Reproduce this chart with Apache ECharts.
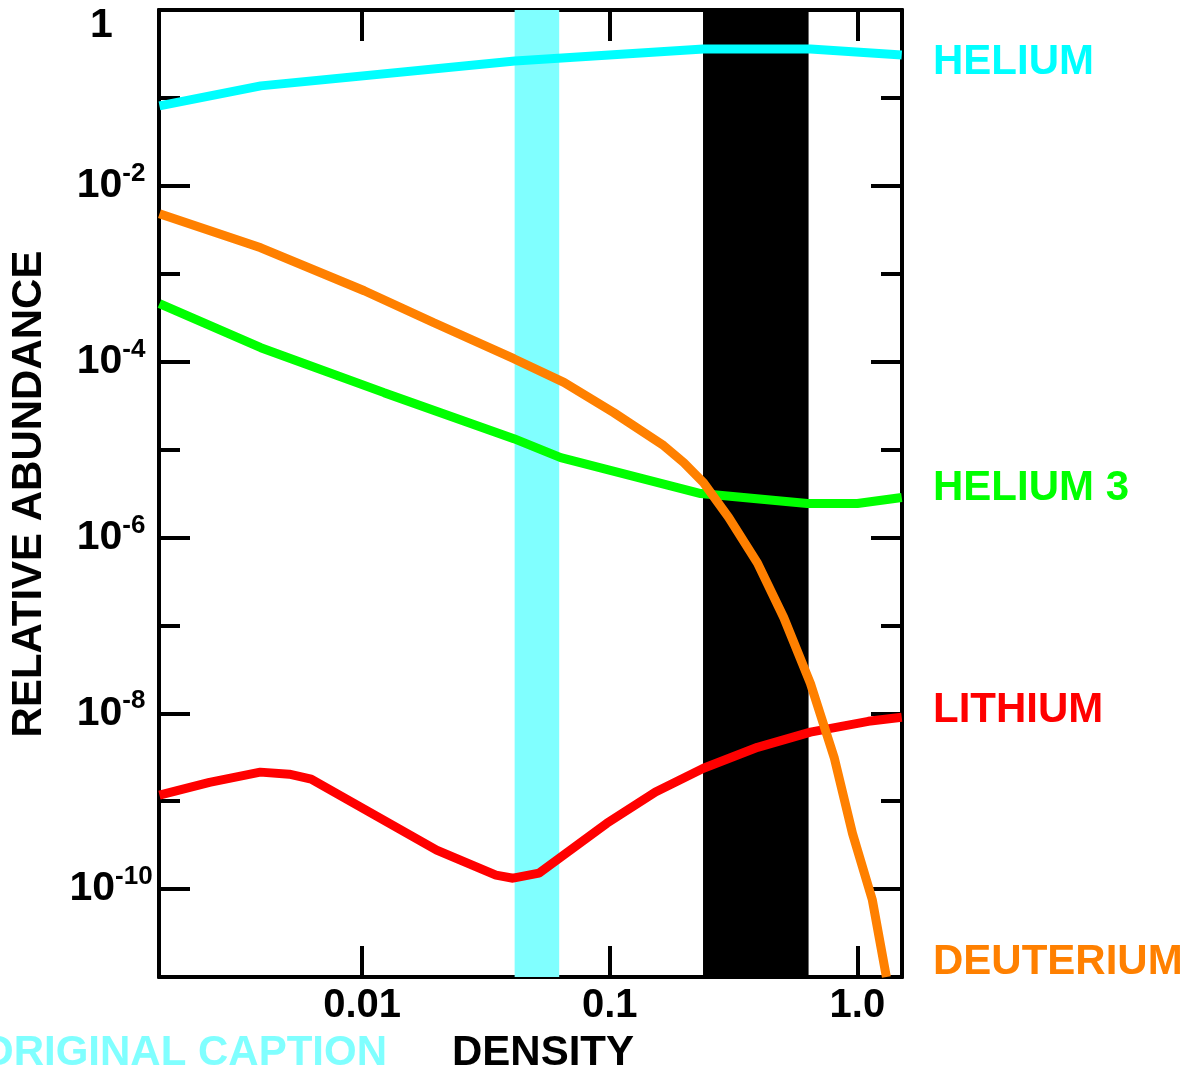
<!DOCTYPE html>
<html><head><meta charset="utf-8">
<script src="https://cdn.jsdelivr.net/npm/echarts@6/dist/echarts.min.js"></script>
<style>html,body{margin:0;padding:0;background:#fff}#c{width:1190px;height:1072px}</style>
</head><body><div id="c"></div>
<script>
// ---- data (density vs relative abundance) ----
const heliumDensity   = [0.00152, 0.0039, 0.0414, 0.239, 0.646, 1.51];
const heliumAbundance = [0.081, 0.137, 0.263, 0.360, 0.360, 0.308];

const deuteriumDensity   = [0.00152, 0.0039, 0.0102, 0.0195, 0.0410, 0.0653, 0.1038, 0.165, 0.199, 0.239, 0.302, 0.395, 0.504, 0.646, 0.807, 0.955, 1.149, 1.309];
const deuteriumAbundance = [4.8e-3, 1.97e-3, 6.4e-4, 2.77e-4, 1.08e-4, 5.8e-5, 2.63e-5, 1.11e-5, 7.1e-6, 4.2e-6, 1.69e-6, 5.1e-7, 1.23e-7, 2.19e-8, 3.08e-9, 4.3e-10, 7.5e-11, 1.0e-11];

const helium3Density   = [0.00152, 0.0039, 0.01227, 0.0410, 0.0634, 0.233, 0.628, 1.0, 1.51];
const helium3Abundance = [4.56e-4, 1.44e-4, 4.44e-5, 1.33e-5, 8.1e-6, 3.16e-6, 2.43e-6, 2.43e-6, 2.85e-6];

const lithiumDensity   = [0.00152, 0.00242, 0.00388, 0.00508, 0.00623, 0.0200, 0.0347, 0.0407, 0.0518, 0.0973, 0.153, 0.239, 0.395, 0.646, 1.107, 1.51];
const lithiumAbundance = [1.17e-9, 1.64e-9, 2.14e-9, 2.03e-9, 1.78e-9, 2.77e-10, 1.44e-10, 1.33e-10, 1.52e-10, 5.6e-10, 1.27e-9, 2.37e-9, 4.1e-9, 6.1e-9, 8.1e-9, 9.0e-9];

const bandLow  = [0.0413, 0.238];
const bandHigh = [0.0625, 0.635];

const xTickValues = [0.01, 0.1, 1.0];
const xTickLabels = ['0.01', '0.1', '1.0'];
const yLabelExponents = [0, -2, -4, -6, -8, -10];
const yMinorExponents = [-1, -3, -5, -7, -9];
const yMajorTickExponents = [-2, -4, -6, -8, -10];

const seriesNames = ['HELIUM', 'HELIUM 3', 'LITHIUM', 'DEUTERIUM'];

// ---- chart ----
const FONT = '"Liberation Sans", Arial, Helvetica, sans-serif';
const L = Math.log10;
const pairs = (xs, ys) => xs.map((x, i) => [L(x), L(ys[i])]);
const XMIN = -2.82, XMAX = 0.18, YMIN = -11, YMAX = 0;

const lineW = 4;
function xAx(pos, showLabel) {
  return {
    type: 'value', position: pos, min: XMIN, max: XMAX,
    axisLine: { show: true, onZero: false, lineStyle: { color: '#000', width: lineW } },
    axisTick: { show: true, inside: true, length: 31, customValues: xTickValues.map(L), lineStyle: { color: '#000', width: 4 } },
    axisLabel: {
      show: showLabel, customValues: xTickValues.map(L), margin: 9,
      fontSize: 40, fontWeight: 'bold', fontFamily: FONT, color: '#000',
      formatter: v => { const i = xTickValues.findIndex(t => Math.abs(L(t) - v) < 1e-6); return i >= 0 ? xTickLabels[i] : ''; }
    },
    splitLine: { show: false }
  };
}
function yAx(pos, ticks, len, showLabel) {
  return {
    type: 'value', position: pos, min: YMIN, max: YMAX,
    axisLine: { show: true, onZero: false, lineStyle: { color: '#000', width: lineW } },
    axisTick: { show: true, inside: true, length: len, customValues: ticks, lineStyle: { color: '#000', width: 4 } },
    axisLabel: {
      show: showLabel, customValues: yLabelExponents, margin: 48, align: 'center',
      formatter: v => v === 0 ? '{one|1}' : '{b|10}{s|' + Math.round(v) + '}',
      rich: {
        b: { fontSize: 41, fontWeight: 'bold', fontFamily: FONT, color: '#000', lineHeight: 50 },
        s: { fontSize: 26, fontWeight: 'bold', fontFamily: FONT, color: '#000', lineHeight: 26, verticalAlign: 'top' },
        one: { fontSize: 41, fontWeight: 'bold', fontFamily: FONT, color: '#000', lineHeight: 40, padding: [32, 19, 0, 0] }
      }
    },
    splitLine: { show: false }
  };
}

const colors = { 'HELIUM': '#00ffff', 'HELIUM 3': '#00ff00', 'LITHIUM': '#ff0000', 'DEUTERIUM': '#ff8000' };
const lineSeries = (name, xs, ys) => ({
  type: 'line', name, data: pairs(xs, ys), symbol: 'none', z: 3, clip: true,
  lineStyle: { color: colors[name], width: 9 }, silent: true
});

const chart = echarts.init(document.getElementById('c'), null, { renderer: 'canvas' });
chart.setOption({
  animation: false,
  backgroundColor: '#fff',
  grid: { left: 159, top: 10, width: 743, height: 967, containLabel: false, outerBoundsMode: 'none' },
  xAxis: [xAx('bottom', true), xAx('top', false)],
  yAxis: [
    yAx('left', yMajorTickExponents, 31, true),
    yAx('left', yMinorExponents, 21, false),
    yAx('right', yMajorTickExponents, 31, false),
    yAx('right', yMinorExponents, 21, false)
  ],
  series: [
    {
      type: 'custom', z: 1, silent: true, clip: false,
      data: bandLow.map((lo, i) => [L(lo), L(bandHigh[i]), i]),
      encode: { x: [0, 1] },
      renderItem: (params, api) => {
        const cs = params.coordSys;
        const x0 = api.coord([api.value(0), YMIN])[0];
        const x1 = api.coord([api.value(1), YMIN])[0];
        return { type: 'rect', shape: { x: x0, y: cs.y, width: x1 - x0, height: cs.height },
                 style: { fill: api.value(2) === 0 ? '#80ffff' : '#000000' } };
      }
    },
    lineSeries('HELIUM', heliumDensity, heliumAbundance),
    lineSeries('HELIUM 3', helium3Density, helium3Abundance),
    lineSeries('LITHIUM', lithiumDensity, lithiumAbundance),
    lineSeries('DEUTERIUM', deuteriumDensity, deuteriumAbundance)
  ],
  graphic: [
    { type: 'text', x: 933, y: 62, style: { text: seriesNames[0], fill: colors['HELIUM'], font: 'bold 42px ' + FONT, textVerticalAlign: 'middle' } },
    { type: 'text', x: 933, y: 488, style: { text: seriesNames[1], fill: colors['HELIUM 3'], font: 'bold 42px ' + FONT, textVerticalAlign: 'middle' } },
    { type: 'text', x: 933, y: 710, style: { text: seriesNames[2], fill: colors['LITHIUM'], font: 'bold 42px ' + FONT, textVerticalAlign: 'middle' } },
    { type: 'text', x: 933, y: 962, style: { text: seriesNames[3], fill: colors['DEUTERIUM'], font: 'bold 42px ' + FONT, textVerticalAlign: 'middle' } },
    { type: 'text', x: 29, y: 494, rotation: Math.PI / 2, style: { text: 'RELATIVE ABUNDANCE', fill: '#000', font: 'bold 42px ' + FONT, textAlign: 'center', textVerticalAlign: 'middle' } },
    { type: 'text', x: 543, y: 1053, style: { text: 'DENSITY', fill: '#000', font: 'bold 42px ' + FONT, textAlign: 'center', textVerticalAlign: 'middle' } },
    { type: 'text', x: 387, y: 1053, style: { text: 'ORIGINAL CAPTION', fill: '#80ffff', font: 'bold 42px ' + FONT, textAlign: 'right', textVerticalAlign: 'middle' } }
  ]
});
</script></body></html>
